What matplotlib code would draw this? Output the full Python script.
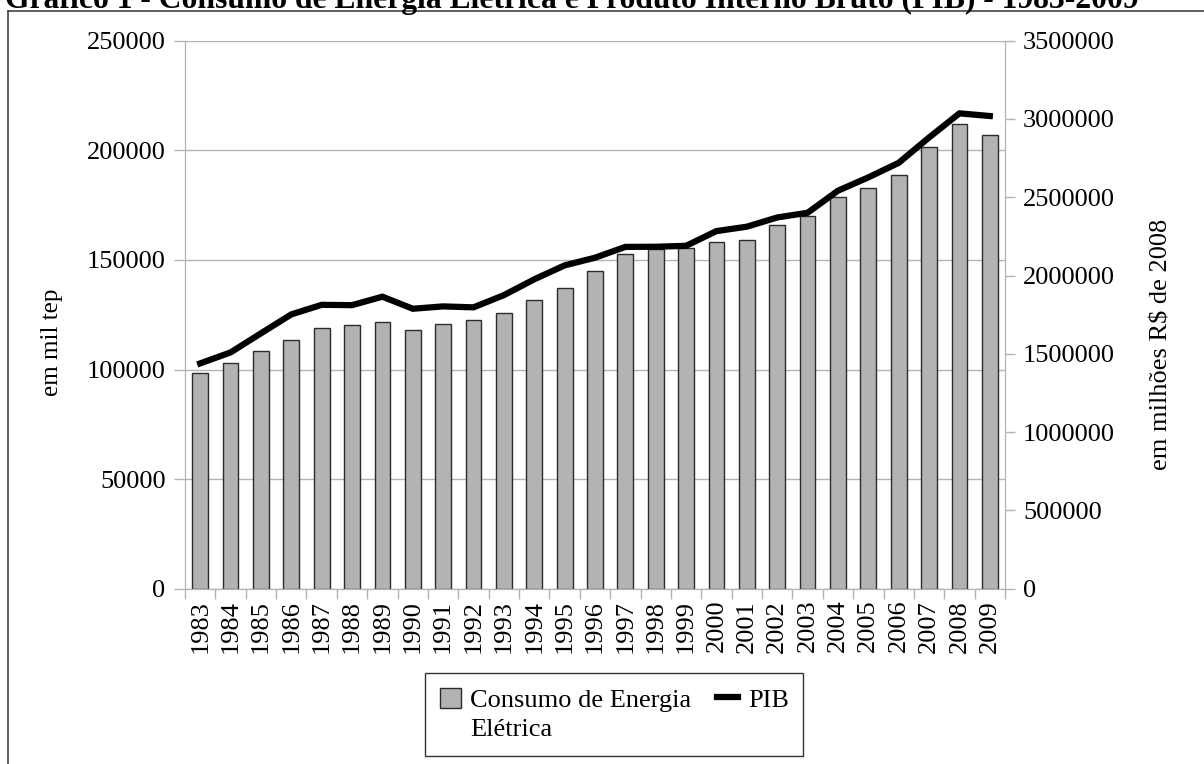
import matplotlib
matplotlib.use("Agg")
import matplotlib.pyplot as plt
from matplotlib.lines import Line2D
from matplotlib.patches import Patch
from matplotlib.ticker import FormatStrFormatter

plt.rcParams["font.family"] = ["Liberation Serif", "DejaVu Serif"]

# Dados anuais
anos = list(range(1983, 2010))
consumo_energia = [
    98300, 103100, 108300, 113500, 118800, 120200, 121700, 117900, 120900,
    122400, 125600, 131800, 137200, 144800, 152500, 155000, 155300, 158000,
    159000, 165900, 169900, 178600, 183000, 188900, 201600, 212000, 206800,
]
pib = [
    1439000, 1509000, 1631000, 1752000, 1813000, 1811000, 1865000, 1788000,
    1803000, 1797000, 1875000, 1976000, 2065000, 2114000, 2183000, 2184000,
    2190000, 2284000, 2312000, 2371000, 2401000, 2542000, 2627000, 2720000,
    2882000, 3036000, 3019000,
]
titulo = ("Gráfico 1 - Consumo de Energia Elétrica e Produto Interno Bruto "
          "(PIB) - 1983-2009")

W, H = 1204, 764
fig = plt.figure(figsize=(W / 100, H / 100), dpi=100)

# moldura e título (cortados no topo)
fig.add_artist(Line2D([8 / W, 1.0], [1 - 10.5 / H, 1 - 10.5 / H],
                      color="#444444", lw=1.2, transform=fig.transFigure))
fig.add_artist(Line2D([8 / W, 8 / W], [0, 1 - 10.5 / H],
                      color="#444444", lw=1.2, transform=fig.transFigure))
fig.text(5 / W, 1 - 8 / H, titulo, fontsize=22.8, fontweight="bold",
         ha="left", va="baseline")

ax = fig.add_axes([185 / W, 1 - 588.7 / H, 820 / W, 548 / H])
x = list(range(len(anos)))

ax.bar(x, consumo_energia, width=0.52, color="#b3b3b3", edgecolor="#2b2b2b",
       linewidth=1.0, zorder=2)
ax.set_xlim(-0.5, len(anos) - 0.5)
ax.set_ylim(0, 250000)
ax.set_yticks(range(0, 250001, 50000))
ax.yaxis.grid(True, color="#b3b3b3", linewidth=1.0, zorder=0)
ax.set_axisbelow(True)

ax.set_xticks(x)
ax.set_xticklabels([str(a) for a in anos], rotation=90)
ax.set_xticks([i - 0.5 for i in range(len(anos) + 1)], minor=True)
ax.tick_params(axis="x", which="major", length=0, pad=8, labelsize=19)
ax.tick_params(axis="x", which="minor", length=7, color="#b3b3b3", width=1)
ax.tick_params(axis="y", length=8, color="#b3b3b3", width=1, labelsize=19,
               pad=6)
for s in ax.spines.values():
    s.set_color("#b3b3b3")
ax.spines["top"].set_visible(False)
ax.set_ylabel("em mil tep", fontsize=18)
ax.yaxis.set_label_coords((63 - 185) / 820, (588.7 - 342) / 548)

ax2 = ax.twinx()
ax2.plot(x, pib, color="black", linewidth=4.5, solid_joinstyle="miter",
         zorder=3)
ax2.set_ylim(0, 3500000)
ax2.set_yticks(range(0, 3500001, 500000))
ax2.yaxis.set_major_formatter(FormatStrFormatter("%d"))
ax2.tick_params(axis="y", length=7, color="#b3b3b3", width=1, labelsize=19,
                pad=6)
for s in ax2.spines.values():
    s.set_color("#b3b3b3")
ax2.spines["top"].set_visible(False)
ax2.set_ylabel("em milhões R$ de 2008", fontsize=19)
ax2.yaxis.set_label_coords((1150 - 185) / 820, (588.7 - 344) / 548)

# legenda: a segunda linha do rótulo das barras entra como item sem símbolo
handles = [
    Patch(facecolor="#b3b3b3", edgecolor="#2b2b2b", linewidth=1.0),
    Patch(facecolor="none", edgecolor="none"),
    Line2D([], [], color="black", linewidth=4.5),
]
labels = ["Consumo de Energia", "Elétrica", "PIB"]
leg = fig.legend(handles, labels, ncol=2,
                 loc="lower left", bbox_to_anchor=(425 / W, 1 - 756 / H),
                 fontsize=19, frameon=True, fancybox=False, borderpad=0.55,
                 labelspacing=0.2, handlelength=0.8, handleheight=0.8,
                 handletextpad=0.35, columnspacing=1.0, borderaxespad=0)
leg.get_frame().set_edgecolor("black")
leg.get_frame().set_linewidth(1.0)

fig.savefig("out.png", dpi=100)
